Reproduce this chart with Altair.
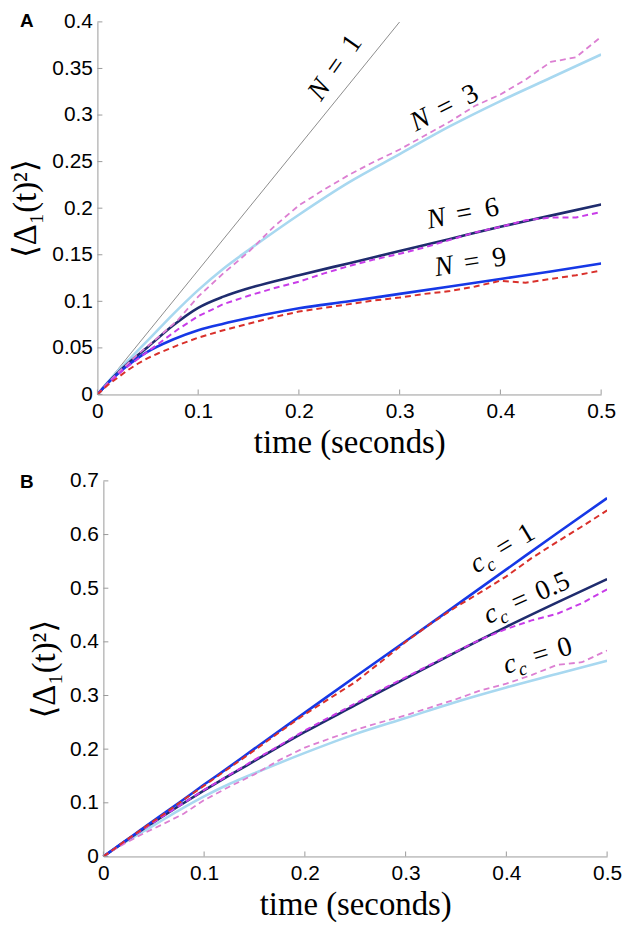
import altair as alt
import pandas as pd

# ---------------- data ----------------
t_theory = [0, 0.01, 0.02, 0.03, 0.04, 0.05, 0.075, 0.1, 0.125, 0.15, 0.2, 0.25, 0.3, 0.35, 0.4, 0.45, 0.5]
t_sim = [0, 0.01, 0.02, 0.03, 0.04, 0.05, 0.06, 0.08, 0.1, 0.125, 0.15, 0.175, 0.2, 0.225, 0.25,
         0.275, 0.3, 0.325, 0.35, 0.375, 0.4, 0.425, 0.45, 0.475, 0.5]

# Panel A
n1_t = [0, 0.3]
n1_y = [0, 0.4]
n3_theory = [0, 0.013, 0.025, 0.036, 0.047, 0.058, 0.086, 0.112, 0.135, 0.155, 0.193, 0.228, 0.258, 0.288, 0.315, 0.34, 0.365]
n6_theory = [0, 0.012, 0.023, 0.033, 0.042, 0.051, 0.074, 0.093, 0.105, 0.114, 0.128, 0.141, 0.154, 0.167, 0.18, 0.192, 0.204]
n9_theory = [0, 0.012, 0.022, 0.031, 0.039, 0.046, 0.059, 0.069, 0.076, 0.082, 0.0925, 0.1, 0.108, 0.116, 0.124, 0.132, 0.1406]
n3_sim = [0, 0.012, 0.023, 0.033, 0.043, 0.052, 0.061, 0.08, 0.105, 0.13, 0.153, 0.18, 0.203, 0.22, 0.236,
          0.25, 0.263, 0.278, 0.293, 0.31, 0.322, 0.338, 0.357, 0.362, 0.384]
n6_sim = [0, 0.011, 0.021, 0.03, 0.038, 0.046, 0.054, 0.07, 0.084, 0.097, 0.106, 0.114, 0.121, 0.13, 0.138,
          0.145, 0.151, 0.158, 0.166, 0.174, 0.18, 0.187, 0.19, 0.19, 0.196]
n9_sim = [0, 0.01, 0.018, 0.026, 0.033, 0.039, 0.044, 0.053, 0.061, 0.069, 0.076, 0.083, 0.089, 0.093, 0.097,
          0.101, 0.104, 0.108, 0.111, 0.116, 0.122, 0.12, 0.124, 0.128, 0.133]

# Panel B
cc1_theory = [0, 0.0134, 0.0268, 0.040, 0.0535, 0.067, 0.100, 0.134, 0.167, 0.201, 0.268, 0.335, 0.401, 0.468, 0.535, 0.602, 0.668]
cc05_theory = [0, 0.013, 0.026, 0.039, 0.052, 0.064, 0.094, 0.123, 0.151, 0.178, 0.232, 0.282, 0.332, 0.381, 0.428, 0.473, 0.517]
cc0_theory = n3_theory
cc1_sim = [0, 0.013, 0.027, 0.04, 0.053, 0.066, 0.079, 0.106, 0.132, 0.165, 0.198, 0.232, 0.265, 0.295, 0.325,
           0.362, 0.4, 0.434, 0.465, 0.493, 0.522, 0.556, 0.586, 0.615, 0.645]
cc05_sim = [0, 0.013, 0.026, 0.039, 0.051, 0.064, 0.076, 0.1, 0.124, 0.152, 0.18, 0.207, 0.235, 0.26, 0.285,
            0.31, 0.334, 0.358, 0.382, 0.405, 0.424, 0.44, 0.452, 0.472, 0.498]
cc0_sim = n3_sim

# ticks
x_ticks = [0, 0.1, 0.2, 0.3, 0.4, 0.5]
yA_ticks = [0, 0.05, 0.1, 0.15, 0.2, 0.25, 0.3, 0.35, 0.4]
yB_ticks = [0, 0.1, 0.2, 0.3, 0.4, 0.5, 0.6, 0.7]

# labels (anchor = start of label baseline)
labA_t = [0.222, 0.316, 0.329, 0.336]
labA_y = [0.314, 0.282, 0.178, 0.127]
labA_ang = [305, 333, 349, 351]
labA_val = ["1", "3", "6", "9"]

labB_t = [0.370, 0.382, 0.400]
labB_y = [0.527, 0.433, 0.340]
labB_ang = [329, 336, 343]
labB_val = ["1", "0.5", "0"]

# ---------------- styles ----------------
W = 507
HA, HB = 375, 378
SERIF = "Liberation Serif, DejaVu Serif, serif"
SANS = "Liberation Sans, Arial, sans-serif"
AX = "#9a9a9a"
GRAY, LBLUE, NAVY, BLUE = "#8c8c8c", "#a8d8f0", "#1f2c6e", "#1638e6"
RED, MAG, PINK = "#d9302b", "#c83ce8", "#dc7fd2"
DASH = [6, 4]
YTITLE = "\u27e8\u0394\u2081(t)\u00b2\u27e9"


class Panel:
    def __init__(self, top, ticks, h, shift, tpad):
        self.top, self.ticks, self.h, self.shift, self.tpad = top, ticks, h, shift, tpad
        self.xsc = alt.Scale(domain=[0, 0.5], nice=False, range=[shift, shift + W])
        self.ysc = alt.Scale(domain=[0, top], nice=False)

    def xenc(self):
        return alt.X("t:Q", scale=self.xsc,
                     axis=alt.Axis(values=x_ticks, format="~g", ticks=False, grid=False,
                                   labelFont=SANS, labelFontSize=21, labelColor="black",
                                   labelPadding=6, labelFlush=False, labelOverlap=False,
                                   domainColor=AX, title="time (seconds)",
                                   titleFont=SERIF, titleFontSize=33, titleFontWeight="normal",
                                   titleColor="black", titlePadding=5))

    def yenc(self):
        ax = dict(values=self.ticks, format="~g", ticks=False, grid=False,
                  labelFont=SANS, labelFontSize=21, labelColor="black",
                  labelPadding=5, labelOverlap=False,
                  domainColor=AX, title=YTITLE,
                  titleFont=SERIF, titleFontSize=33, titleFontWeight="normal",
                  titleColor="black", titlePadding=self.tpad)
        if self.shift:
            ax["offset"] = -self.shift
        return alt.Y("y:Q", scale=self.ysc, axis=alt.Axis(**ax))

    def line(self, ts, ys, color, width, dash=None, smooth=False):
        df = pd.DataFrame({"t": ts, "y": ys})
        kw = dict(color=color, strokeWidth=width, clip=True, strokeCap="butt")
        if dash:
            kw["strokeDash"] = dash
        if smooth:
            kw["interpolate"] = "monotone"
        return alt.Chart(df).mark_line(**kw).encode(x=self.xenc(), y=self.yenc())

    def ticks_inward(self):
        xt = alt.Chart(pd.DataFrame({"t": x_ticks})).mark_rule(color=AX, strokeWidth=1).encode(
            x=alt.X("t:Q", scale=self.xsc), y=alt.value(self.h), y2=alt.value(self.h - 5))
        yt = alt.Chart(pd.DataFrame({"y": self.ticks})).mark_rule(color=AX, strokeWidth=1).encode(
            y=alt.Y("y:Q", scale=self.ysc),
            x=alt.value(self.shift), x2=alt.value(self.shift + 5))
        return [xt, yt]

    def lab_text(self, df, text=None, field=None, dx=0, dy=0, size=28, italic=False):
        kw = dict(font=SERIF, fontSize=size, align="left", baseline="alphabetic", dx=dx, dy=dy,
                  color="black", fontStyle="italic" if italic else "normal")
        if text is not None:
            kw["text"] = text
        enc = dict(x=alt.X("t:Q", scale=self.xsc), y=alt.Y("y:Q", scale=self.ysc),
                   angle=alt.Angle("ang:Q", scale=None))
        if field is not None:
            enc["text"] = alt.Text(field + ":N")
        return alt.Chart(df).mark_text(**kw).encode(**enc)


def panel_letter(letter, dx, dy):
    return alt.Chart(pd.DataFrame({"k": [0]})).mark_text(
        text=letter, font=SANS, fontSize=19, fontWeight="bold", align="left",
        baseline="top", color="black").encode(x=alt.value(dx), y=alt.value(dy))


def left_edge(px):
    # invisible spacer fixing the panel's left extent
    return alt.Chart(pd.DataFrame({"k": [0]})).mark_rule(strokeOpacity=0, strokeWidth=1).encode(
        x=alt.value(px), x2=alt.value(px + 1), y=alt.value(100), y2=alt.value(101))


# ---------------- panel A ----------------
A = Panel(0.4, yA_ticks, HA, 0, 9)
labA = pd.DataFrame({"t": labA_t, "y": labA_y, "ang": labA_ang, "val": labA_val})

panelA = alt.layer(
    A.line(n1_t, n1_y, GRAY, 1),
    A.line(t_theory, n3_theory, LBLUE, 2.6, smooth=True),
    A.line(t_theory, n6_theory, NAVY, 2.6, smooth=True),
    A.line(t_theory, n9_theory, BLUE, 2.6, smooth=True),
    A.line(t_sim, n3_sim, PINK, 1.8, DASH),
    A.line(t_sim, n6_sim, MAG, 2, DASH),
    A.line(t_sim, n9_sim, RED, 2, DASH),
    *A.ticks_inward(),
    A.lab_text(labA, text="N", italic=True),
    A.lab_text(labA, text="=", dx=30),
    A.lab_text(labA, field="val", dx=59),
    panel_letter("A", -78, -10),
    left_edge(-90),
).properties(width=W, height=HA)

# ---------------- panel B ----------------
B = Panel(0.7, yB_ticks, HB, 6, 8)
labB = pd.DataFrame({"t": labB_t, "y": labB_y, "ang": labB_ang, "val": labB_val})

panelB = alt.layer(
    B.line(t_theory, cc0_theory, LBLUE, 2.6, smooth=True),
    B.line(t_theory, cc05_theory, NAVY, 2.6, smooth=True),
    B.line(t_theory, cc1_theory, BLUE, 2.6, smooth=True),
    B.line(t_sim, cc0_sim, PINK, 1.8, DASH),
    B.line(t_sim, cc05_sim, MAG, 2, DASH),
    B.line(t_sim, cc1_sim, RED, 2, DASH),
    *B.ticks_inward(),
    B.lab_text(labB, text="c", italic=True),
    B.lab_text(labB, text="c", dx=13, dy=6, size=19, italic=True),
    B.lab_text(labB, text="=", dx=31),
    B.lab_text(labB, field="val", dx=57),
    panel_letter("B", -78, -8),
    left_edge(-84),
).properties(width=W + 6, height=HB)

chart = alt.vconcat(panelA, panelB, spacing=11).properties(
    padding={"left": 0, "top": 0, "right": 0, "bottom": 0}
).configure_view(stroke=None)

chart.save("out.html", embed_options={"renderer": "svg", "actions": False})
